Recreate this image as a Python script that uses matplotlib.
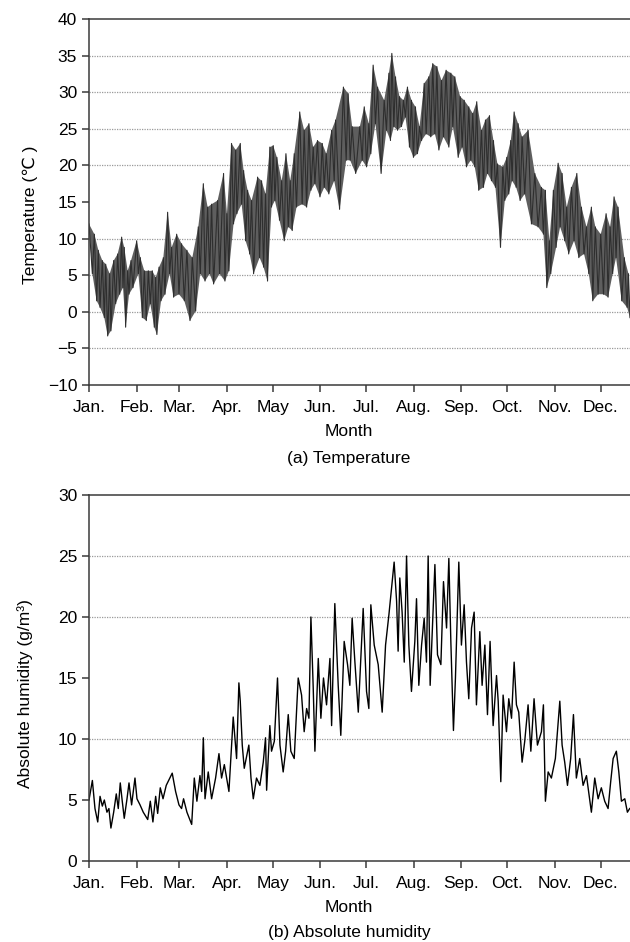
import numpy as np
import matplotlib.pyplot as plt

plt.rcParams['font.family'] = ['Liberation Sans', 'DejaVu Sans']

month_names = ['Jan.', 'Feb.', 'Mar.', 'Apr.', 'May', 'Jun.', 'Jul.', 'Aug.',
               'Sep.', 'Oct.', 'Nov.', 'Dec.']
month_start = [0, 31, 59, 90, 120, 151, 181, 212, 243, 273, 304, 334]
day_end = 353  # the plot is cut off in late December

temp_peak_day = [0, 3.5, 6.1, 8.7, 10.9, 13.5, 16.1, 18.7, 21.3, 23, 25.2, 27.4,
                 31.1, 33.5, 36.1, 38.7, 41.3, 43.5, 45.7, 48.5, 51.3, 53.9, 57.2,
                 60.4, 63.9, 67.4, 71.3, 74.6, 77.4, 80, 83.9, 87.8, 90, 93, 95.7,
                 98.7, 100.9, 103.5, 106.1, 110, 112.6, 115.2,
                 118, 120.2, 122.6, 125.7, 128.5, 131.3, 133.9, 137.5, 140.4, 143.5,
                 146.3, 149.1, 152.2, 154.8, 158.3, 160.9, 166, 169.1, 171.7, 176.7,
                 179.6, 182.6, 185.4, 188.3, 192.6, 195.7, 197.6, 200, 202.6, 205.2,
                 207.8, 210.4, 213, 215.7, 218.7, 221.7, 224.3, 227, 230, 233, 236.1,
                 238.7,
                 242.2, 244.8, 247.8, 250.4, 253, 256.1, 258.7, 261.3, 263.9, 266.5,
                 270, 272.6, 275.2, 277.4, 280, 282.6, 286.5, 290.9, 295.2, 297.8,
                 300.4, 303, 306.1, 308.7, 311.7, 314.8, 318.3, 321.3, 324.6, 327.8,
                 330.4, 333.9, 337.4, 340, 342.6, 345.2, 349.3, 352]
temp_peak = [12.0, 10.6, 8.4, 7.0, 6.5, 5.2, 7.0, 7.9, 10.2, 8.8, 5.6, 7.0, 9.7,
             7.4, 5.6, 5.6, 5.6, 4.7, 6.1, 7.4, 13.6, 8.8, 10.6, 9.3, 8.4, 7.4,
             11.6, 17.5, 14.3, 14.7, 15.2, 18.9, 13.4, 23.0, 22.1, 23.0, 19.3, 16.6,
             15.2, 18.4, 17.9, 16.1,
             22.5, 22.7, 21.1, 17.9, 21.6, 17.9, 21.6, 27.3, 24.8, 25.7, 22.5, 23.4,
             23.0, 21.6, 24.8, 26.2, 30.7, 29.8, 25.3, 25.3, 28.0, 25.7, 33.7, 30.7,
             28.9, 32.6, 35.3, 32.1, 29.4, 28.9, 30.7, 28.9, 28.0, 25.3, 31.2, 32.1,
             33.9, 33.5, 31.6, 33.0, 32.6, 32.1,
             29.4, 28.9, 28.0, 27.1, 28.7, 24.8, 26.2, 26.8, 23.4, 20.2, 19.8, 21.1,
             23.4, 27.3, 25.7, 23.9, 24.8, 18.9, 17.0, 16.6, 9.7, 16.6, 20.3, 18.9,
             14.3, 17.0, 18.9, 14.3, 11.6, 14.3, 11.6, 10.6, 13.4, 11.6, 15.7, 14.3,
             7.4, 5.2]
temp_trough_day = [2.2, 5, 7.2, 10, 12.2, 14.3, 17.4, 20, 22.2, 23.9, 26.1, 28.7,
                   32.2, 34.8, 37.4, 40, 42.6, 44.3, 47, 49.6, 52.6, 55.2, 58.7,
                   62.2, 65.9, 69.6, 72.6, 75.7, 78.7, 81.3, 85.2, 88.7, 91.3, 94.3,
                   96.5, 99.6, 102.2, 104.8, 107.4, 111.3, 113.9, 116.5,
                   119.1, 121.3, 124.3, 127.4, 130, 132.6, 135.4, 139.1, 142, 144.8,
                   147.4, 150.7, 153.5, 156.5, 160, 163.5, 167.8, 170.4, 174, 178.3,
                   181.1, 183.9, 186.9, 190.6, 194.1, 196.7, 198.9, 201.3, 203.9,
                   206.5, 209.1, 211.7, 214.3, 217, 220, 223, 225.7, 228.3, 231.3,
                   234.8, 237.4,
                   240.9, 243.5, 246.3, 249.1, 251.7, 254.3, 257.4, 260, 262.6, 265.2,
                   268.5, 271.3, 273.9, 276.1, 278.7, 281.3, 284.3, 288.7, 293, 296.5,
                   298.7, 301.3, 304.8, 307.4, 310.4, 313, 316.5, 319.6, 323, 326.1,
                   328.7, 332.2, 335.7, 338.7, 341.7, 343.9, 347.6, 351.1, 353]
temp_trough = [5.2, 1.5, 0.6, -0.8, -3.3, -2.6, 1.1, 2.4, 3.3, -2.1, 2.4, 3.3, 5.2,
               -0.8, -1.2, 1.1, -2.1, -3.1, 1.5, 2.4, 5.2, 2.0, 2.4, 1.5, -1.2, 0.1,
               5.2, 4.2, 5.2, 3.8, 5.2, 4.2, 5.6, 12.0, 13.4, 14.7, 9.7, 7.9, 5.2,
               7.4, 6.1, 4.2,
               14.3, 15.2, 12.5, 9.7, 11.6, 11.1, 14.3, 14.7, 14.3, 16.6, 17.5, 15.7,
               17.0, 16.1, 17.9, 14.0, 20.7, 20.7, 18.9, 20.7, 19.8, 21.6, 25.7, 18.9,
               24.8, 23.4, 25.3, 24.8, 25.3, 26.6, 22.5, 21.1, 21.6, 23.4, 24.3, 23.9,
               24.3, 22.1, 23.9, 22.5, 25.3,
               21.1, 22.5, 19.8, 20.7, 19.8, 16.6, 17.0, 18.9, 17.9, 17.0, 8.8, 15.2,
               16.1, 17.9, 17.0, 15.2, 16.1, 12.0, 11.6, 10.6, 3.3, 5.2, 8.8, 11.6,
               9.7, 7.9, 9.7, 7.4, 7.9, 5.2, 1.5, 2.4, 2.4, 2.0, 5.2, 7.4, 1.5, 0.6,
               -0.8]

# absolute humidity (g/m3): turning points of the trace
hum_day = [0, 2.2, 3.9, 5.7, 7.2, 8.7, 10, 11.7, 13, 14.3, 16.1, 17.8, 19.1, 20.4,
           21.7, 23, 24.8, 26.1, 27.8, 30, 31.3, 33.3, 35.4, 38.3, 40, 41.7, 43.5,
           44.8, 46.5, 48.3, 50.4, 54.3, 56.5, 58.7, 60.4, 61.7, 63.9, 67, 68.7,
           70.4, 72.4, 73.5, 74.6, 75.7, 77.8, 80, 82.6, 84.8, 86.5, 88.3, 91.3,
           93, 94.1, 96.3, 97.8, 98.7, 100, 101.3, 104.3, 105.7, 107.2, 109.3,
           111.5, 113.7, 115.2, 115.9, 118, 119.1, 120.9, 123, 124.6, 126.7, 128.3,
           130, 131.7, 133.9, 135.4, 136.5, 138.7, 140.4, 142, 143.5, 144.8, 146.3,
           147.4, 149.6, 151.3, 153, 155, 157.2, 158.3, 160.4, 162.6, 164.3, 166.5,
           168.7, 170.2, 171.7, 173.5, 175.7, 178.9, 181.1, 182.6, 183.9, 186.1,
           188.7, 191.3, 193.5, 195.7, 199.1, 200.7, 201.7, 202.8, 204.3, 205.7,
           207.2, 208.7, 210.4, 212.6, 213.7, 215.2, 217, 218.7, 220.2, 221.3,
           222.6, 224.1, 225.7, 227.4, 229.6, 231.3, 233.3, 234.8, 236.1, 237.8,
           239.1, 241.3, 243, 244.8, 246.3, 247.8, 249.6, 251.3, 252.8, 255, 256.5,
           258.3, 260, 261.7, 263.7, 265.9, 267, 268.7, 270.2, 272.4, 273.9, 275.7,
           277.4, 278.9, 280.4, 282.6, 284.3, 286.5, 288.3, 290.4, 292.6, 295.2,
           296.5, 297.8, 299.6, 301.7, 304.3, 307.2, 308.7, 310.4, 312.2, 314.3,
           316.1, 318, 320.2, 322.4, 324.6, 327.8, 330, 332.2, 334.3, 336.5, 338.7,
           340.4, 342, 344.1, 345.7, 347.4, 349.6, 351.3, 352.8]
hum_val = [5.0, 6.6, 4.3, 3.2, 5.3, 4.5, 5.0, 4.0, 4.3, 2.7, 4.0, 5.5, 4.3, 6.4,
           4.9, 3.5, 5.1, 6.4, 4.6, 6.8, 5.1, 4.6, 4.0, 3.4, 4.9, 3.2, 5.3, 3.9,
           6.0, 5.1, 6.2, 7.2, 5.7, 4.6, 4.3, 5.1, 4.0, 3.0, 6.8, 4.9, 7.0, 5.7,
           10.1, 5.1, 7.3, 5.1, 6.8, 8.8, 6.8, 7.9, 5.7, 9.5, 11.8, 8.4, 14.6,
           13.1, 9.5, 7.6, 9.5, 6.8, 5.1, 6.8, 6.2, 8.1, 10.1, 5.8, 11.1, 9.0, 9.8,
           15.0, 9.5, 7.3, 9.0, 12.0, 9.0, 8.4, 12.2, 15.0, 13.6, 10.6, 12.5, 11.7,
           20.0, 14.2, 9.0, 16.6, 11.7, 15.0, 12.8, 16.6, 11.1, 21.1, 14.4, 10.3,
           18.0, 16.1, 14.4, 19.9, 16.3, 12.2, 20.7, 13.9, 12.5, 21.0, 17.7, 16.1,
           12.2, 17.7, 20.2, 24.5, 21.3, 17.2, 23.2, 20.4, 16.3, 25.0, 17.7, 13.9,
           18.0, 21.5, 14.4, 17.7, 19.9, 16.3, 25.0, 14.4, 19.1, 24.3, 16.9, 16.1,
           22.9, 19.1, 24.8, 18.0, 10.7, 15.0, 24.5, 17.7, 21.0, 16.3, 13.3, 19.1,
           20.4, 12.8, 18.8, 14.4, 17.7, 12.0, 18.0, 11.1, 15.2, 13.1, 6.5, 13.6,
           10.6, 13.3, 11.7, 16.3, 12.8, 12.2, 8.1, 9.8, 12.8, 9.0, 13.3, 9.5,
           10.6, 12.8, 4.9, 7.3, 6.8, 8.4, 13.1, 9.5, 8.1, 6.2, 8.4, 12.0, 6.8, 8.4,
           6.2, 7.0, 4.0, 6.8, 5.1, 6.0, 4.9, 4.3, 6.5, 8.4, 9.0, 7.3, 4.9, 5.1,
           4.0, 4.3]


def style_axes(ax, ymin, ymax, grid_vals):
    ax.set_xlim(0, day_end)
    ax.set_ylim(ymin, ymax)
    ax.set_yticks(np.arange(ymin, ymax + 1, 5))
    ax.set_xticks(month_start)
    ax.set_xticklabels(month_names)
    for v in grid_vals:
        ax.axhline(v, color='#9a9a9a', lw=0.9, ls=(0, (1, 1)), zorder=0)
    ax.spines['right'].set_visible(False)
    for s in ['left', 'top', 'bottom']:
        ax.spines[s].set_color('#3a3a3a')
        ax.spines[s].set_linewidth(1.1)
    ax.tick_params(direction='out', length=5, width=1.1, color='#3a3a3a',
                   labelsize=12.5, labelcolor='black')
    ax.tick_params(axis='x', pad=6)


fig = plt.figure(figsize=(6.3, 9.42), dpi=100)
W, H = 630, 942
ax1 = fig.add_axes([89 / W, 1 - 385 / H, 1 - 89 / W, (385 - 19) / H])
ax2 = fig.add_axes([89 / W, 1 - 861 / H, 1 - 89 / W, (861 - 495) / H])

# (a) temperature: shaded band between the peaks and troughs, plus the swing line
band_x = np.concatenate([temp_peak_day, temp_trough_day[::-1]])
band_y = np.concatenate([temp_peak, temp_trough[::-1]])
ax1.fill(band_x, band_y, color='#5e5e5e', lw=0, zorder=1)
swing = sorted(zip(temp_peak_day + temp_trough_day, temp_peak + temp_trough))
ax1.plot([p[0] for p in swing], [p[1] for p in swing], color='#2e2e2e', lw=0.8, zorder=2)
style_axes(ax1, -10, 40, [35, 30, 25, 20, 10, 5, 0, -5])

# (b) absolute humidity
ax2.plot(hum_day, hum_val, color='black', lw=1.0, zorder=2)
style_axes(ax2, 0, 30, [25, 20, 10])

fs = 12.5
fig.text(30 / W, 1 - 215 / H, 'Temperature (℃ )', rotation=90, ha='center', va='center', fontsize=fs)
fig.text(349 / W, 1 - 432 / H, 'Month', ha='center', va='center', fontsize=fs)
fig.text(349 / W, 1 - 458 / H, '(a) Temperature', ha='center', va='center', fontsize=fs)

fig.text(25 / W, 1 - 694 / H, 'Absolute humidity (g/m³)', rotation=90, ha='center', va='center', fontsize=fs)
fig.text(349 / W, 1 - 908 / H, 'Month', ha='center', va='center', fontsize=fs)
fig.text(349 / W, 1 - 933 / H, '(b) Absolute humidity', ha='center', va='center', fontsize=fs)

fig.savefig('out.png', dpi=100)
